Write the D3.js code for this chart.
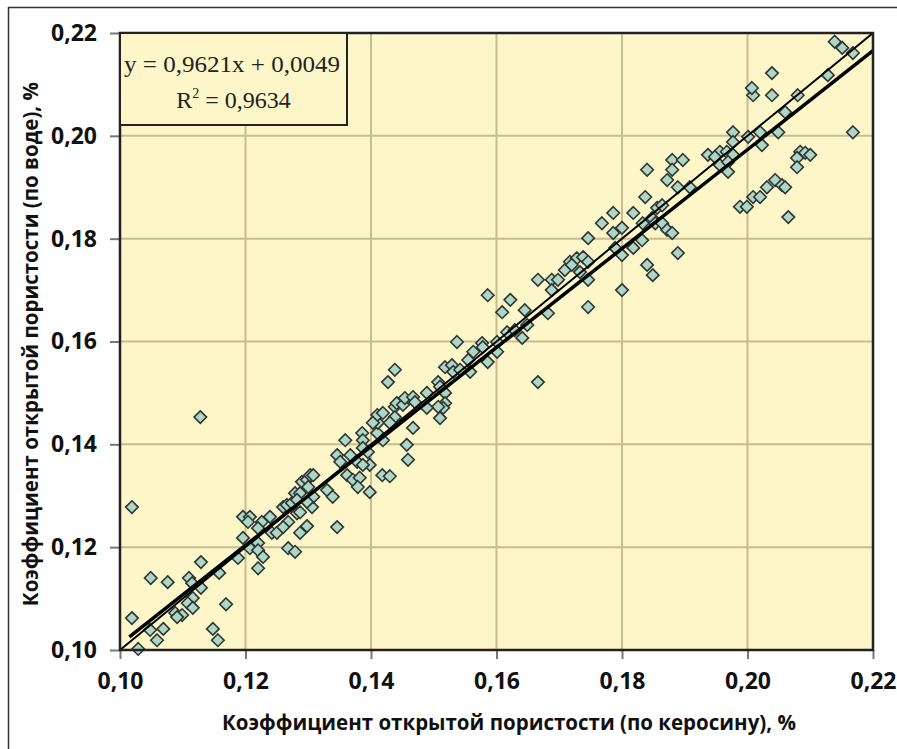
<!DOCTYPE html>
<html>
<head>
<meta charset="utf-8">
<script src="https://cdn.jsdelivr.net/npm/d3@7"></script>
<style>
  body { margin: 0; background: #fff; }
  svg { display: block; }
</style>
</head>
<body>
<svg id="chart" width="897" height="749"></svg>
<script>
// porosity by kerosene (x) and by water (y)
const kerosene = [
  0.1019, 0.1196, 0.1207, 0.1204, 0.1226, 0.1239, 0.1220, 0.1242, 0.1250, 0.1260,
  0.1266, 0.1279, 0.1287, 0.1282, 0.1287, 0.1268, 0.1260, 0.1287, 0.1196, 0.1207,
  0.1220, 0.1220, 0.1228, 0.1220, 0.1268, 0.1279, 0.1188, 0.1129, 0.1158, 0.1049,
  0.1076, 0.1110, 0.1115, 0.1129, 0.1116, 0.1108, 0.1116, 0.1169, 0.1088, 0.1099,
  0.1091, 0.1019, 0.1048, 0.1069, 0.1059, 0.1148, 0.1156, 0.1029, 0.1128,
  0.1274, 0.1282, 0.1290, 0.1298, 0.1303, 0.1308, 0.1300, 0.1306, 0.1308, 0.1298,
  0.1298, 0.1330, 0.1339, 0.1346, 0.1346, 0.1351, 0.1359, 0.1362, 0.1367, 0.1378,
  0.1371, 0.1382, 0.1379, 0.1386, 0.1387, 0.1387, 0.1395, 0.1398, 0.1387, 0.1398,
  0.1410, 0.1411, 0.1410, 0.1419, 0.1419, 0.1418, 0.1430, 0.1438, 0.1441, 0.1451,
  0.1454, 0.1467, 0.1438, 0.1457, 0.1459, 0.1467, 0.1430, 0.1403, 0.1470,
  0.1438, 0.1427, 0.1586, 0.1609, 0.1622, 0.1645, 0.1537, 0.1577, 0.1601, 0.1617,
  0.1629, 0.1641, 0.1649, 0.1601, 0.1586, 0.1563, 0.1555, 0.1558, 0.1518, 0.1529,
  0.1531, 0.1542, 0.1666, 0.1507, 0.1510, 0.1489, 0.1518, 0.1518, 0.1515, 0.1507,
  0.1489, 0.1510, 0.1682, 0.1578,
  0.1837, 0.1786, 0.1818, 0.1768, 0.1786, 0.1800, 0.1856, 0.1864, 0.1833, 0.1848,
  0.1853, 0.1864, 0.1872, 0.1832, 0.1746, 0.1789, 0.1818, 0.1800, 0.1840, 0.1849,
  0.1717, 0.1728, 0.1738, 0.1746, 0.1709, 0.1720, 0.1733, 0.1746, 0.1666, 0.1688,
  0.1698, 0.1688, 0.1800, 0.1746, 0.1880, 0.1889,
  0.2009, 0.2039, 0.2060, 0.1977, 0.2001, 0.2020, 0.1977, 0.2023, 0.2049, 0.1937,
  0.1956, 0.1967, 0.1977, 0.1956, 0.1969, 0.1969, 0.1880, 0.1897, 0.1880, 0.1840,
  0.1872, 0.1889, 0.1908, 0.2044, 0.2055, 0.2031, 0.2060, 0.2009, 0.2020, 0.1988,
  0.1999, 0.2065, 0.1948, 0.2139, 0.2151, 0.2168, 0.2128, 0.2080, 0.2039, 0.2007,
  0.2168, 0.2084, 0.2092, 0.2100, 0.2079, 0.2079
];
const water = [
  0.1278, 0.1259, 0.1259, 0.1249, 0.1249, 0.1259, 0.1237, 0.1228, 0.1228, 0.1278,
  0.1282, 0.1305, 0.1305, 0.1266, 0.1268, 0.1249, 0.1239, 0.1228, 0.1218, 0.1198,
  0.1208, 0.1194, 0.1181, 0.1159, 0.1198, 0.1191, 0.1179, 0.1171, 0.1150, 0.1140,
  0.1132, 0.1140, 0.1130, 0.1121, 0.1101, 0.1091, 0.1082, 0.1089, 0.1072, 0.1068,
  0.1064, 0.1062, 0.1039, 0.1041, 0.1019, 0.1041, 0.1019, 0.1002, 0.1453,
  0.1286, 0.1292, 0.1327, 0.1331, 0.1340, 0.1340, 0.1317, 0.1278, 0.1298, 0.1288,
  0.1241, 0.1311, 0.1298, 0.1239, 0.1379, 0.1366, 0.1408, 0.1340, 0.1379, 0.1366,
  0.1331, 0.1335, 0.1317, 0.1422, 0.1408, 0.1393, 0.1385, 0.1360, 0.1360, 0.1307,
  0.1422, 0.1442, 0.1457, 0.1461, 0.1408, 0.1340, 0.1338, 0.1473, 0.1480, 0.1477,
  0.1490, 0.1492, 0.1453, 0.1399, 0.1370, 0.1432, 0.1442, 0.1442, 0.1482,
  0.1545, 0.1521, 0.1690, 0.1657, 0.1681, 0.1661, 0.1599, 0.1597, 0.1599, 0.1618,
  0.1622, 0.1607, 0.1632, 0.1580, 0.1560, 0.1580, 0.1564, 0.1541, 0.1550, 0.1554,
  0.1541, 0.1545, 0.1521, 0.1521, 0.1512, 0.1500, 0.1500, 0.1480, 0.1471, 0.1473,
  0.1471, 0.1451, 0.1655, 0.1589,
  0.1881, 0.1850, 0.1850, 0.1830, 0.1811, 0.1821, 0.1860, 0.1865, 0.1830, 0.1840,
  0.1830, 0.1830, 0.1817, 0.1797, 0.1801, 0.1782, 0.1782, 0.1768, 0.1749, 0.1729,
  0.1755, 0.1762, 0.1764, 0.1755, 0.1739, 0.1749, 0.1735, 0.1720, 0.1720, 0.1720,
  0.1720, 0.1700, 0.1700, 0.1667, 0.1811, 0.1772,
  0.2079, 0.2079, 0.2046, 0.2007, 0.1998, 0.2007, 0.1988, 0.1982, 0.2007, 0.1963,
  0.1969, 0.1969, 0.1963, 0.1943, 0.1949, 0.1930, 0.1953, 0.1953, 0.1934, 0.1934,
  0.1914, 0.1900, 0.1900, 0.1914, 0.1904, 0.1900, 0.1900, 0.1881, 0.1881, 0.1862,
  0.1862, 0.1842, 0.1959, 0.2183, 0.2171, 0.2161, 0.2118, 0.2079, 0.2122, 0.2093,
  0.2007, 0.1969, 0.1967, 0.1963, 0.1957, 0.1939
];
const tickValues = [0.10, 0.12, 0.14, 0.16, 0.18, 0.20, 0.22];
const slope = 0.9621;
const intercept = 0.0049;
const rSquared = 0.9634;

const xTitle = "Коэффициент открытой пористости (по керосину), %";
const yTitle = "Коэффициент открытой пористости (по воде), %";

const comma = v => String(v).replace(".", ",");
const fmt = v => d3.format(".2f")(v).replace(".", ",");

const svg = d3.select("#chart");
const plotLeft = 120, plotRight = 873, plotTop = 33, plotBottom = 650;
const sans = "'Open Sans', 'Noto Sans', sans-serif";
const serif = "'Liberation Serif', 'Times New Roman', serif";

const x = d3.scaleLinear().domain([0.10, 0.22]).range([plotLeft, plotRight]);
const y = d3.scaleLinear().domain([0.10, 0.22]).range([plotBottom, plotTop]);

// outer frame (only top and left edges show)
svg.append("path")
    .attr("d", "M8.5,749 V7.5 H897")
    .attr("fill", "none")
    .attr("stroke", "#333")
    .attr("stroke-width", 1.5);

// plot background
svg.append("rect")
    .attr("x", plotLeft).attr("y", plotTop)
    .attr("width", plotRight - plotLeft).attr("height", plotBottom - plotTop)
    .attr("fill", "#fcf6c8");

// grid
let grid = svg.append("g").attr("class", "grid");
grid.selectAll("line.gx")
    .data(tickValues.slice(1, -1))
    .enter().append("line")
    .attr("x1", d => x(d)).attr("x2", d => x(d))
    .attr("y1", plotTop).attr("y2", plotBottom)
    .attr("stroke", "#c9bc8e").attr("stroke-width", 2);
grid.selectAll("line.gy")
    .data(tickValues.slice(1, -1))
    .enter().append("line")
    .attr("y1", d => y(d)).attr("y2", d => y(d))
    .attr("x1", plotLeft).attr("x2", plotRight)
    .attr("stroke", "#c9bc8e").attr("stroke-width", 2);

// axes
let xAxis = svg.append("g")
    .attr("transform", `translate(0,${plotBottom})`)
    .call(d3.axisBottom(x).tickValues(tickValues).tickFormat(fmt).tickSize(9).tickPadding(14));
let yAxis = svg.append("g")
    .attr("transform", `translate(${plotLeft},0)`)
    .call(d3.axisLeft(y).tickValues(tickValues).tickFormat(fmt).tickSize(10).tickPadding(13));

[xAxis, yAxis].forEach(a => {
    a.select(".domain").remove();
    a.selectAll(".tick line").attr("stroke", "#777").attr("stroke-width", 2);
    a.selectAll(".tick text")
        .attr("fill", "#111")
        .style("font-family", sans)
        .style("font-weight", "bold")
        .style("font-size", "23px");
});

// points
let points = kerosene.map((k, i) => ({k: k, w: water[i]}));
let diamond = d3.symbol().type(d3.symbolDiamond2).size(100);
svg.append("g")
    .attr("class", "points")
    .selectAll("path")
    .data(points)
    .enter().append("path")
    .attr("d", diamond)
    .attr("transform", d => `translate(${x(d.k)},${y(d.w)})`)
    .attr("fill", "#a9d9c6")
    .attr("stroke", "#333")
    .attr("stroke-width", 1.6);

// 1:1 line and trend line
let line = d3.line().x(d => x(d[0])).y(d => y(d[1]));
svg.append("path")
    .datum([[0.10, 0.10], [0.22, 0.22]])
    .attr("d", line)
    .attr("fill", "none").attr("stroke", "#000").attr("stroke-width", 2);
let x0 = d3.min(kerosene) - 0.0004;
svg.append("path")
    .datum([[x0, slope * x0 + intercept], [0.22, slope * 0.22 + intercept]])
    .attr("d", line)
    .attr("fill", "none").attr("stroke", "#000").attr("stroke-width", 3.5);

// plot border
svg.append("rect")
    .attr("x", plotLeft).attr("y", plotTop)
    .attr("width", plotRight - plotLeft).attr("height", plotBottom - plotTop)
    .attr("fill", "none")
    .attr("stroke", "#222")
    .attr("stroke-width", 2.5);

// equation box
let boxW = 227, boxH = 92;
let eq = svg.append("g");
eq.append("rect")
    .attr("x", plotLeft).attr("y", plotTop)
    .attr("width", boxW).attr("height", boxH)
    .attr("fill", "#fcf6c8")
    .attr("stroke", "#222").attr("stroke-width", 2);
eq.append("text")
    .attr("x", plotLeft + 4).attr("y", plotTop + 39)
    .attr("textLength", 216)
    .attr("lengthAdjust", "spacingAndGlyphs")
    .style("font-family", serif)
    .style("font-size", "24px")
    .attr("fill", "#222")
    .text(`y = ${comma(slope)}x + ${comma(intercept)}`);
let r2 = eq.append("text")
    .attr("x", plotLeft + boxW / 2).attr("y", plotTop + 75)
    .attr("text-anchor", "middle")
    .style("font-family", serif)
    .style("font-size", "24px")
    .attr("fill", "#222");
r2.append("tspan").text("R");
r2.append("tspan").attr("dy", -10).style("font-size", "14px").text("2");
r2.append("tspan").attr("dy", 10).text(` = ${comma(rSquared)}`);

// axis titles
svg.append("text")
    .attr("x", 509).attr("y", 730)
    .attr("text-anchor", "middle")
    .style("font-family", sans)
    .style("font-weight", "bold")
    .style("font-size", "20.5px")
    .attr("fill", "#111")
    .text(xTitle);
svg.append("text")
    .attr("transform", "translate(38,82) rotate(-90)")
    .attr("text-anchor", "end")
    .style("font-family", sans)
    .style("font-weight", "bold")
    .style("font-size", "20.5px")
    .attr("fill", "#111")
    .text(yTitle);
</script>
</body>
</html>
